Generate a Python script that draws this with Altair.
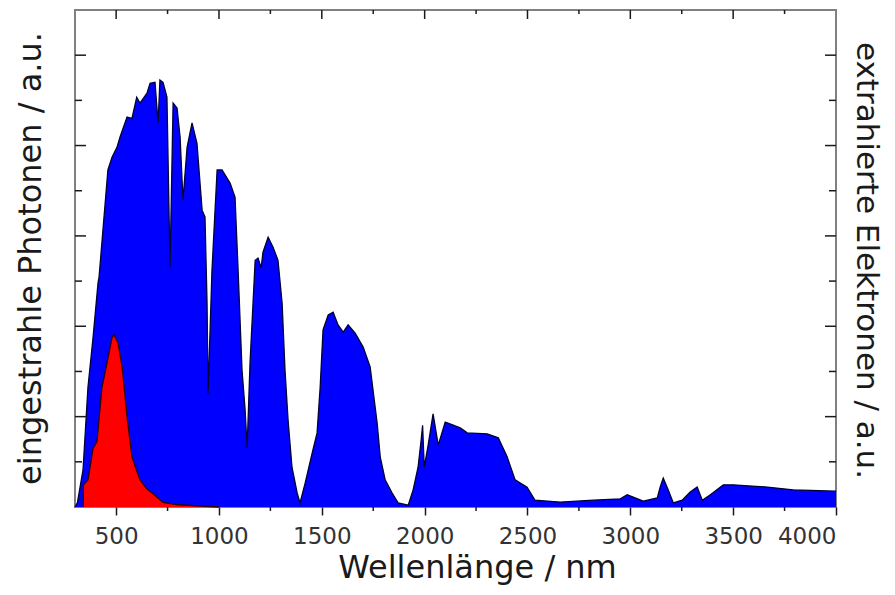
import altair as alt
import pandas as pd

# --- data ---
blue_nm = [300, 312, 339, 363, 388, 412, 417, 460, 480, 504, 519, 553, 577, 600, 616, 650,
           665, 689, 704, 713, 728, 747, 762, 777, 796, 811, 825, 845, 869, 893, 918, 932,
           942, 947, 966, 991, 1015, 1054, 1078, 1093, 1112, 1127, 1137, 1151, 1176, 1190,
           1205, 1214, 1239, 1263, 1287, 1307, 1321, 1336, 1355, 1380, 1394, 1419, 1453,
           1477, 1492, 1506, 1531, 1555, 1579, 1604, 1628, 1662, 1701, 1735, 1749, 1769,
           1784, 1808, 1842, 1871, 1920, 1944, 1968, 1983, 1990, 1998, 2017, 2041, 2066,
           2100, 2139, 2173, 2207, 2304, 2358, 2401, 2440, 2498, 2537, 2659, 2820, 2951,
           2985, 3014, 3063, 3131, 3145, 3160, 3184, 3209, 3252, 3291, 3325, 3350, 3389,
           3452, 3500, 3666, 3792, 4000]
blue_val = [0.0, 0.1, 0.82, 2.65, 3.76, 4.96, 5.09, 7.46, 7.74, 7.96, 8.19, 8.63, 8.6, 9.07, 8.94, 9.16,
            9.38, 9.4, 8.5, 9.45, 9.4, 9.07, 5.31, 8.94, 8.83, 8.19, 6.79, 7.96, 8.5, 8.05, 6.57, 6.42,
            4.51, 2.52, 5.24, 7.46, 7.46, 7.17, 6.86, 5.24, 3.03, 2.15, 1.31, 3.19, 5.46, 5.51,
            5.29, 5.64, 5.97, 5.75, 5.46, 4.51, 3.03, 1.92, 0.88, 0.31, 0.09, 0.53, 1.19,
            1.64, 2.65, 3.92, 4.25, 4.31, 4.03, 3.87, 4.03, 3.85, 3.54, 3.10, 2.59, 1.86,
            1.11, 0.60, 0.31, 0.09, 0.04, 0.38, 0.88, 1.48, 1.81, 0.88, 1.37, 2.06, 1.37,
            1.88, 1.81, 1.75, 1.64, 1.62, 1.53, 1.11, 0.60, 0.44, 0.15, 0.11, 0.15, 0.18,
            0.27, 0.22, 0.13, 0.20, 0.44, 0.64, 0.38, 0.09, 0.15, 0.33, 0.44, 0.15, 0.27,
            0.49, 0.49, 0.44, 0.38, 0.35]

red_nm = [340, 341, 363, 388, 407, 422, 431, 456, 480, 490, 509, 529, 553, 577, 600, 616,
          650, 675, 728, 800, 1000]
red_val = [0.0, 0.49, 0.6, 1.3, 1.45, 2.2, 2.65, 3.2, 3.75, 3.81, 3.63, 3.1, 2.0, 1.11, 0.8, 0.6,
           0.4, 0.31, 0.1, 0.05, 0.0]

x_major = [500, 1000, 1500, 2000, 2500, 3000, 3500, 4000]
x_minor = [750, 1250, 1750, 2250, 2750, 3250, 3750]
y_long = [2, 4, 6, 8, 10]
y_short = [1, 3, 5, 7, 9]

W, H = 761, 497
FONT = "DejaVu Sans"
TICK = "#1a1a1a"
TFS = 32

blue = pd.DataFrame({"nm": blue_nm, "v": blue_val})
red = pd.DataFrame({"nm": red_nm, "v": red_val})

xscale = alt.Scale(domain=[300, 4000], nice=False, zero=False)
yscale = alt.Scale(domain=[0, 11], nice=False, zero=True)

x_axis = alt.Axis(values=x_major, format="d", title="Wellenlänge / nm", domain=False, grid=False,
                  tickSize=8, tickWidth=1.5, tickColor=TICK,
                  labelFontSize=23, labelColor="#333333", labelFont=FONT, labelPadding=10,
                  titleFontSize=TFS, titleFont=FONT, titleFontWeight="normal", titleColor="#1a1a1a",
                  titleX=402, titleY=70, titleBaseline="alphabetic", titleAlign="center")

X = alt.X("nm:Q", scale=xscale, axis=x_axis)

blue_layer = alt.Chart(blue).mark_area(
    color="#0000ff", opacity=1, interpolate="linear",
    line={"color": "#000033", "strokeWidth": 1.3}
).encode(
    x=X,
    y=alt.Y("v:Q", scale=yscale,
            axis=alt.Axis(title="eingestrahle Photonen / a.u.", labels=False, ticks=False,
                          domain=False, grid=False, orient="left",
                          titleFontSize=TFS, titleFont=FONT, titleFontWeight="normal",
                          titleColor="#1a1a1a", titleAngle=-90, titleX=-45, titleY=248,
                          titleBaseline="middle", titleAlign="center"))
)

red_layer = alt.Chart(red).mark_area(
    color="#ff0000", opacity=1, interpolate="linear",
    line={"color": "#330000", "strokeWidth": 1.3}
).encode(
    x=X,
    y=alt.Y("v:Q", scale=yscale,
            axis=alt.Axis(title="extrahierte Elektronen / a.u.", labels=False, ticks=False,
                          domain=False, grid=False, orient="right",
                          titleFontSize=31, titleFont=FONT, titleFontWeight="normal",
                          titleColor="#1a1a1a", titleAngle=90, titleX=29, titleY=250,
                          titleBaseline="middle", titleAlign="center"))
)

def yrule(vals, x0, x1):
    d = pd.DataFrame({"t": vals})
    return alt.Chart(d).mark_rule(color=TICK, strokeWidth=1.5).encode(
        y=alt.Y("t:Q", scale=yscale, axis=None),
        x=alt.value(x0), x2=alt.value(x1))

def xrule(vals, y0, y1):
    d = pd.DataFrame({"nm": vals})
    return alt.Chart(d).mark_rule(color=TICK, strokeWidth=1.5).encode(
        x=X, y=alt.value(y0), y2=alt.value(y1))

layers = [
    blue_layer,
    red_layer,
    yrule(y_long, 0, 11),
    yrule(y_short, 0, 7),
    yrule(y_long, W, W - 11),
    yrule(y_short, W, W - 7),
    xrule(x_major[:-1], 0, 9),
    xrule(x_minor, 0, 4),
    xrule(x_minor, H, H + 4),
]

chart = alt.layer(*layers).resolve_scale(y="independent").properties(
    width=W, height=H,
    autosize=alt.AutoSizeParams(type="none"),
    padding={"left": 67, "top": 2, "right": 51, "bottom": 79},
).configure_view(stroke="#808080", strokeWidth=2)

chart.save("out.html", embed_options={"renderer": "svg", "actions": False})
